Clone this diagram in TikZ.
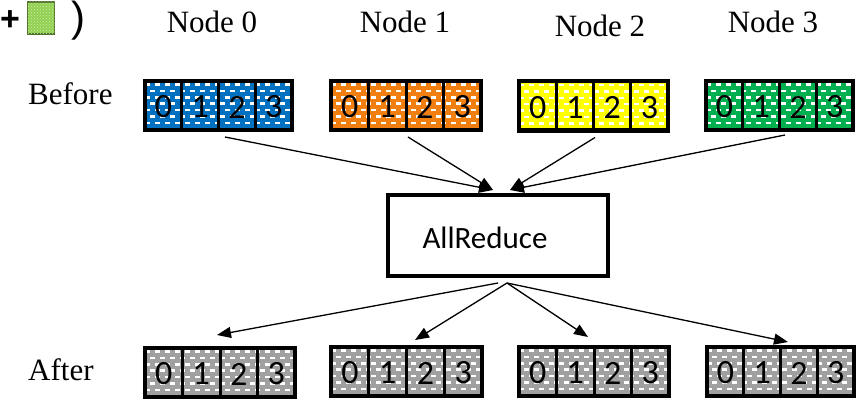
\documentclass[tikz,border=0pt]{standalone}
\usepackage{fontspec}
\setmainfont{Liberation Serif}
\newfontfamily\carlito{Carlito}
\newfontfamily\arialf{Liberation Sans}
\usetikzlibrary{arrows.meta,calc,patterns}
\definecolor{cblue}{HTML}{0070C0}
\definecolor{corange}{HTML}{F07F10}
\definecolor{cyellow}{HTML}{FFFF00}
\definecolor{cgreen}{HTML}{00B050}
\definecolor{cgray}{HTML}{A0A0A0}
\definecolor{lgreen}{HTML}{92D050}
\tikzset{
  blockfill/.style={inner sep=0, outer sep=0, minimum height=49pt, draw=none},
  dashline/.style={white, line width=2.5pt, dash pattern=on 5pt off 5pt},
  digit/.style={font=\carlito\fontsize{34}{34}\selectfont, inner sep=0},
  lbl/.style={font=\fontsize{31}{31}\selectfont, inner sep=0},
  arr/.style={line width=1.3pt, -{Triangle[length=14pt,width=11pt]}},
  redbox/.style={draw, line width=4pt, inner sep=0, outer sep=0, minimum width=220pt, minimum height=81pt},
}
\newcommand\mkblock[5]{%
  \node[blockfill, fill=#5, minimum width=#4pt] (#1) at (#2,#3) {};
  \begin{scope}
    \clip (#1.north west) rectangle (#1.south east);
    \foreach \r in {0,...,7}{
      \pgfmathsetmacro\ph{mod(\r,2)*5}
      \draw[dashline, dash phase=\ph pt] ($(#1.north west)+(0,3.5+\r*6.4)$) -- ($(#1.north east)+(0,3.5+\r*6.4)$);
    }
  \end{scope}
  \draw[line width=4pt] (#1.north west) rectangle (#1.south east);
  \foreach \f in {0.25,0.5,0.75}{
    \draw[line width=3pt] ($(#1.north west)!\f!(#1.north east)$) -- ($(#1.south west)!\f!(#1.south east)$);
  }
  \foreach \d in {0,1,2,3}{
    \node[digit] (#1d\d) at ($(#1.west)!{(\d+0.5)/4}!(#1.east)+(0,1.5)$) {\d};
  }
}
\begin{document}
\begin{tikzpicture}[x=1pt,y=-1pt]
\useasboundingbox (0,0) rectangle (856,401);
% top-left fragment
\node[font=\arialf\bfseries\fontsize{34}{34}\selectfont, inner sep=0, anchor=west] (plus) at (0,21) {+};
\node[draw=lgreen!55!black, line width=1.2pt, fill=lgreen, minimum width=27pt, minimum height=32pt, inner sep=0, outer sep=0] (gr) at (41,18) {};
\fill[pattern=crosshatch dots, pattern color=white!55!lgreen] (gr.north west) rectangle (gr.south east);
\node[font=\arialf\fontsize{42}{42}\selectfont, inner sep=0, anchor=north] (par) at (78,1) {)};
% labels
\node[lbl, anchor=base] (n0) at (212,33) {Node 0};
\node[lbl, anchor=base] (n1) at (405,33) {Node 1};
\node[lbl, anchor=base] (n2) at (600,37) {Node 2};
\node[lbl, anchor=base] (n3) at (773,33) {Node 3};
\node[lbl, anchor=base west] (bef) at (28,105) {Before};
\node[lbl, anchor=base west] (aft) at (28,380) {After};
% before blocks
\mkblock{b0}{218.5}{105.5}{147}{cblue}
\mkblock{b1}{406}{105.5}{150}{corange}
\mkblock{b2}{593.5}{106}{149}{cyellow}
\mkblock{b3}{779.5}{105.5}{147}{cgreen}
% after blocks
\mkblock{a0}{220}{372.5}{150}{cgray}
\mkblock{a1}{406.5}{371.5}{151}{cgray}
\mkblock{a2}{594}{371.5}{150}{cgray}
\mkblock{a3}{780.5}{371.5}{147}{cgray}
% allreduce
\node[redbox] (ar) at (498,235.5) {};
\node[font=\carlito\fontsize{31}{31}\selectfont, inner sep=0, anchor=base] (art) at (485,248) {AllReduce};
% incoming
\draw[arr] ([xshift=6.5pt,yshift=-7pt]b0.south) -- ([xshift=-5pt,yshift=5pt]ar.north);
\draw[arr] ([xshift=2pt,yshift=-7pt]b1.south) -- ([xshift=-5pt,yshift=5pt]ar.north);
\draw[arr] ([xshift=1.5pt,yshift=-7pt]b2.south) -- ([xshift=12pt,yshift=5pt]ar.north);
\draw[arr] ([xshift=5.5pt,yshift=-5pt]b3.south) -- ([xshift=12pt,yshift=5pt]ar.north);
% outgoing
\draw[arr] ([yshift=-7pt]ar.south) -- ([xshift=-3pt,yshift=13pt]a0.north);
\draw[arr] ([xshift=9pt,yshift=-7pt]ar.south) -- ([xshift=8.5pt,yshift=7pt]a1.north);
\draw[arr] ([xshift=9pt,yshift=-7pt]ar.south) -- ([xshift=-6pt,yshift=10pt]a2.north);
\draw[arr] ([xshift=9pt,yshift=-7pt]ar.south) -- ([xshift=7.5pt,yshift=5pt]a3.north);
\end{tikzpicture}
\end{document}
